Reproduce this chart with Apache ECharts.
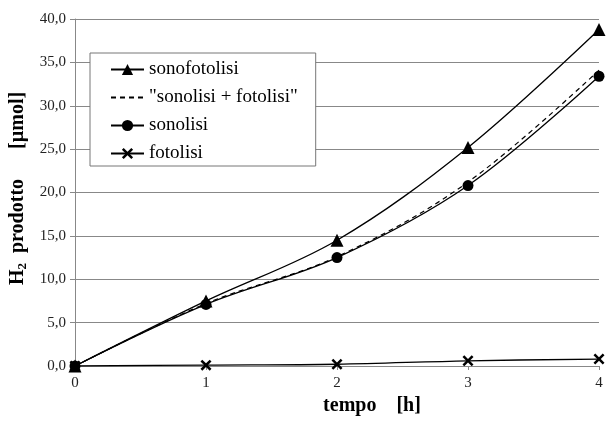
<!DOCTYPE html>
<html>
<head>
<meta charset="utf-8">
<script src="https://cdn.jsdelivr.net/npm/echarts@6/dist/echarts.min.js"></script>
<style>html,body{margin:0;padding:0;background:#fff;}#c{width:606px;height:423px;}</style>
</head>
<body>
<div id="c"></div>
<script>
const tempo = [0, 1, 2, 3, 4];
const sonofotolisi = [0, 7.5, 14.5, 25.2, 38.8];
const sonolisiPiuFotolisi = [0, 7.2, 12.6, 21.2, 34.1];
const sonolisi = [0, 7.1, 12.5, 20.8, 33.4];
const fotolisi = [0, 0.1, 0.2, 0.6, 0.8];
const seriesNames = ['sonofotolisi', '"sonolisi + fotolisi"', 'sonolisi', 'fotolisi'];

const pairs = arr => tempo.map((t, i) => [t, arr[i]]);
const crossPath = 'path://M0,1.6L1.6,0L5,3.4L8.4,0L10,1.6L6.6,5L10,8.4L8.4,10L5,6.6L1.6,10L0,8.4L3.4,5Z';
const serif = 'Liberation Serif';

const chart = echarts.init(document.getElementById('c'), null, {renderer: 'canvas'});
const baseLine = {type: 'line', smooth: 0.35, lineStyle: {color: '#000', width: 1.3}, itemStyle: {color: '#000'}, z: 3};
chart.setOption({
  animation: false,
  backgroundColor: '#fff',
  textStyle: {fontFamily: serif},
  grid: {left: 75, right: 7, top: 19, bottom: 57, containLabel: false, outerBoundsMode: 'none'},
  legend: {
    orient: 'vertical', left: 90, top: 53,
    padding: [7, 18, 3, 20],
    backgroundColor: '#fff', borderColor: '#777', borderWidth: 1,
    itemWidth: 33, itemHeight: 14, itemGap: 9,
    textStyle: {fontFamily: serif, fontSize: 19, color: '#000'},
    data: [
      {name: seriesNames[0], textStyle: {fontFamily: serif}},
      {name: seriesNames[1], itemStyle: {opacity: 0}, textStyle: {fontFamily: serif}},
      {name: seriesNames[2], textStyle: {fontFamily: serif}},
      {name: seriesNames[3], textStyle: {fontFamily: serif}}
    ]
  },
  xAxis: {
    type: 'value', min: 0, max: 4, interval: 1,
    name: 'tempo    [h]', nameLocation: 'middle', nameGap: 28,
    nameTextStyle: {fontFamily: serif, fontSize: 20, fontWeight: 'bold', color: '#000', padding: [0, 0, 0, 70]},
    axisLine: {lineStyle: {color: '#888', width: 1}},
    axisTick: {show: true, length: 4, lineStyle: {color: '#888'}},
    axisLabel: {fontFamily: serif, fontSize: 15, color: '#222', margin: 10},
    splitLine: {show: false}
  },
  yAxis: {
    type: 'value', min: 0, max: 40, interval: 5,
    name: '{b|H}{s|2}{b|  prodotto      [µmol]}', nameLocation: 'middle', nameGap: 42,
    nameTextStyle: {
      fontFamily: serif, fontSize: 20, fontWeight: 'bold', color: '#000', padding: [0, 0, 0, 8],
      rich: {
        b: {fontFamily: serif, fontSize: 20, fontWeight: 'bold', color: '#000'},
        s: {fontFamily: serif, fontSize: 13, fontWeight: 'bold', color: '#000', verticalAlign: 'bottom', padding: [9, 0, 0, 0]}
      }
    },
    axisLine: {show: true, lineStyle: {color: '#888', width: 1}},
    axisTick: {show: true, length: 5, lineStyle: {color: '#888'}},
    axisLabel: {fontFamily: serif, fontSize: 15, color: '#222', margin: 9,
      formatter: v => v.toFixed(1).replace('.', ',')},
    splitLine: {show: true, lineStyle: {color: '#888', width: 1}}
  },
  series: [
    Object.assign({}, baseLine, {name: seriesNames[0], data: pairs(sonofotolisi), symbol: 'triangle', symbolSize: 13}),
    Object.assign({}, baseLine, {name: seriesNames[1], data: pairs(sonolisiPiuFotolisi), symbol: 'none',
      lineStyle: {color: '#000', width: 1.2, type: [5, 4]}}),
    Object.assign({}, baseLine, {name: seriesNames[2], data: pairs(sonolisi), symbol: 'circle', symbolSize: 11}),
    Object.assign({}, baseLine, {name: seriesNames[3], data: pairs(fotolisi), symbol: crossPath, symbolSize: 11})
  ]
});
</script>
</body>
</html>
